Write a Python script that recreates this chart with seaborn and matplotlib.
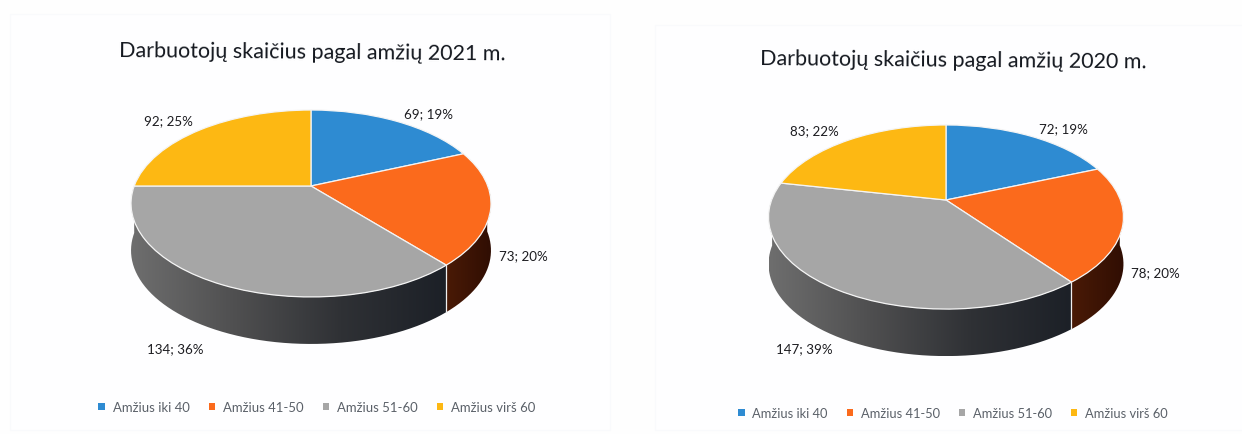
import numpy as np
import matplotlib
matplotlib.use("Agg")
import matplotlib.pyplot as plt
import seaborn as sns
from matplotlib.transforms import Transform
from matplotlib.path import Path
from matplotlib.patches import PathPatch, Rectangle
from matplotlib.colors import LinearSegmentedColormap

categories = ["Amžius iki 40", "Amžius 41-50", "Amžius 51-60", "Amžius virš 60"]
values_2021 = [69, 73, 134, 92]
percent_2021 = [19, 20, 36, 25]
values_2020 = [72, 78, 147, 83]
percent_2020 = [19, 20, 39, 22]
title_2021 = "Darbuotojų skaičius pagal amžių 2021 m."
title_2020 = "Darbuotojų skaičius pagal amžių 2020 m."

top_colors = ["#2e8bd2", "#fb6a1c", "#a6a6a6", "#fdb813"]
wall_colors = [None, ["#4a1a06", "#300e03"], ["#6e6e6e", "#4f4f50", "#2f3135", "#1c2027"], None]

sns.set_theme(style="white")
plt.rcParams["font.family"] = ["Lato", "DejaVu Sans"]
palette = sns.color_palette(top_colors)


class Perspective(Transform):
    input_dims = 2
    output_dims = 2
    is_affine = False
    has_inverse = False

    def __init__(self, cx, cy, a, b, k):
        super().__init__()
        self.cx, self.cy, self.a, self.b, self.k = cx, cy, a, b, k

    def transform_non_affine(self, values):
        v = np.asarray(values, dtype=float)
        w = 1 + self.k * v[:, 1]
        return np.column_stack((self.cx + self.a * v[:, 0] / w,
                                self.cy - self.b * v[:, 1] / w))


fig = plt.figure(figsize=(12.42, 4.35), dpi=100, facecolor="#fefefe")


def draw(values, percents, title, geom, depth, title_xy, label_xy, legend_xy, legend_size):
    ax = fig.add_axes([0, 0, 1, 1], facecolor="none")
    wedges, _ = ax.pie(values, colors=palette, startangle=90, counterclock=False,
                       wedgeprops=dict(edgecolor="#f4f4f4", linewidth=0.9, zorder=3))
    proj = Perspective(*geom)
    for w in wedges:
        w.set_transform(proj + ax.transData)
    ax.set_aspect("auto")
    ax.set_xlim(0, 1242)
    ax.set_ylim(435, 0)
    ax.set_autoscale_on(False)

    for w, ramp in zip(wedges, wall_colors):
        if ramp is None:
            continue
        th = np.radians(np.linspace(w.theta1, w.theta2, 240))
        th = th[np.sin(th) <= 0.02]
        arc = proj.transform_non_affine(np.column_stack((np.cos(th), np.sin(th))))
        low = arc + [0, depth]
        poly = np.vstack((arc, low[::-1], arc[:1]))
        x0, x1 = poly[:, 0].min(), poly[:, 0].max()
        y0, y1 = poly[:, 1].min(), poly[:, 1].max()
        cmap = LinearSegmentedColormap.from_list("wall", ramp)
        im = ax.imshow(np.linspace(0, 1, 256)[None, :], cmap=cmap, aspect="auto",
                       extent=(x0, x1, y1, y0), zorder=1)
        im.set_clip_path(PathPatch(Path(poly), transform=ax.transData))
    ax.set_xlim(0, 1242)
    ax.set_ylim(435, 0)

    # white seam on the side wall between the grey and the orange slice
    seam_th = np.radians(wedges[1].theta1 if np.sin(np.radians(wedges[1].theta1)) < 0 else wedges[1].theta2)
    seam = proj.transform_non_affine(np.array([[np.cos(seam_th), np.sin(seam_th)]]))[0]
    ax.plot([seam[0], seam[0]], [seam[1], seam[1] + depth], color="#f0f0f0", lw=0.9, zorder=2)

    ax.text(*title_xy, title, fontsize=15.5, color="#14181f", ha="center", va="center",
            rotation=-0.5, rotation_mode="anchor")
    for (x, y), v, p in zip(label_xy, values, percents):
        ax.text(x, y, f"{v}; {p}%", fontsize=9.6, color="#1c1c20", ha="center", va="center")
    leg = ax.legend(wedges, categories, loc="center", bbox_to_anchor=legend_xy,
                    bbox_transform=ax.transData, ncol=4, frameon=False, fontsize=legend_size,
                    handlelength=0.5, handleheight=0.5, handletextpad=0.6,
                    columnspacing=1.45, labelcolor="#5a6068")
    for h in leg.legend_handles:
        h.set_edgecolor("none")
    return ax


bg = fig.add_axes([0, 0, 1, 1], facecolor="none")
bg.set_xlim(0, 1242)
bg.set_ylim(435, 0)
bg.axis("off")
bg.add_patch(Rectangle((10, 15), 600, 416, facecolor="#fefeff", edgecolor="#f9fafc", lw=1))
bg.add_patch(Rectangle((655, 26), 590, 405, facecolor="#fefeff", edgecolor="#f9fafc", lw=1))

draw(values_2021, percent_2021, title_2021, (311, 187, 176.8, 90.2, 0.187), 47,
     (312, 53), [(429, 114), (523, 256), (175, 349), (168, 121)], (317, 408), 9.45)
draw(values_2020, percent_2020, title_2020, (946, 201, 174.4, 88.9, 0.185), 47,
     (953, 61), [(1063, 129), (1155, 273), (804, 349), (814, 131)], (953, 414), 9.3)

fig.savefig("out.png", dpi=100, facecolor=fig.get_facecolor())
